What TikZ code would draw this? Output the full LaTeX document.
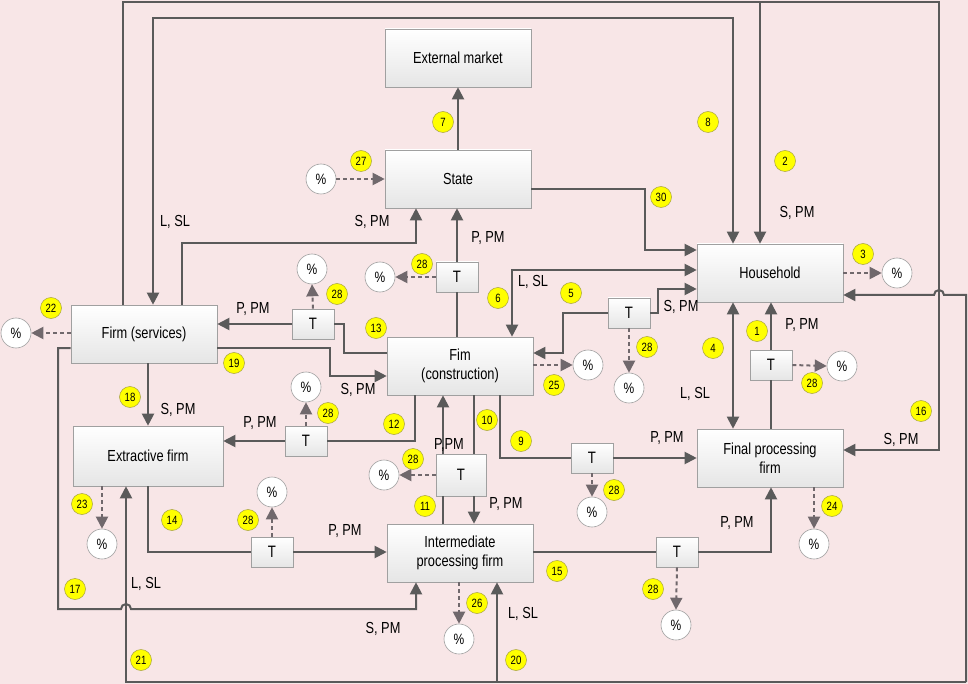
\documentclass[tikz,border=0pt]{standalone}
\usepackage{fontspec}
\setmainfont[FakeStretch=0.8]{Liberation Sans}
\usetikzlibrary{arrows.meta,calc,shadows}

\definecolor{bgpink}{RGB}{248,230,231}
\definecolor{linegray}{RGB}{90,90,90}
\definecolor{dashgray}{RGB}{112,104,108}
\definecolor{boxline}{RGB}{160,160,160}
\definecolor{numyellow}{RGB}{255,255,0}

\tikzset{
  box/.style={draw=boxline,line width=0.6pt,top color=white,bottom color=black!10,
    minimum width=146pt,minimum height=58pt,align=center,
    font=\fontsize{16}{19}\selectfont},
  tbox/.style={draw=boxline,line width=0.6pt,top color=white,bottom color=black!10,
    minimum width=42pt,minimum height=30pt,inner sep=0pt,
    font=\fontsize{16.5}{16.5}\selectfont},
  pct/.style={circle,draw=boxline,line width=0.6pt,fill=white,minimum size=30pt,
    inner sep=0pt,font=\fontsize{15}{15}\selectfont},
  num/.style={circle,draw=yellow!60!black,line width=0.5pt,fill=numyellow,
    minimum size=21pt,inner sep=0pt,font=\fontsize{12}{12}\selectfont},
  lbl/.style={inner sep=0pt,font=\fontsize{16}{19}\selectfont},
  flow/.style={draw=linegray,line width=2pt},
  tax/.style={draw=dashgray,line width=2pt,dash pattern=on 4pt off 3pt},
  >={Triangle[length=12pt,width=12pt]},
}

\begin{document}
\begin{tikzpicture}[y=1pt,x=1pt,yscale=-1]
\useasboundingbox (0,0) rectangle (968,684);
\fill[bgpink] (0,0) rectangle (968,684);

% main boxes
\node[box] (ext) at (458,58) {External market};
\node[box] (state) at (458,179) {State};
\node[box] (house) at (770,273) {Household};
\node[box] (serv) at (144,334) {Firm (services)};
\node[box] (cons) at (460,366) {Fim\\(construction)};
\node[box,minimum width=150pt,minimum height=60pt] (extr) at (148,456) {Extractive firm};
\node[box] (inter) at (460,553) {Intermediate\\processing firm};
\node[box] (final) at (770,458) {Final processing\\firm};

% tax boxes
\node[tbox] (t1) at (457,277) {T};
\node[tbox] (t2) at (313,324) {T};
\node[tbox] (t3) at (629,313) {T};
\node[tbox] (t4) at (306,441) {T};
\node[tbox,minimum width=50pt,minimum height=42pt] (t5) at (461,475) {T};
\node[tbox] (t6) at (272,552) {T};
\node[tbox] (t7) at (592,458) {T};
\node[tbox] (t8) at (677,552) {T};
\node[tbox] (t9) at (771,365) {T};

% percent circles
\node[pct] (p27) at (321,179) {\%};
\node[pct] (p1) at (380,277) {\%};
\node[pct] (p2) at (312,269) {\%};
\node[pct] (pserv) at (16,333) {\%};
\node[pct] (phouse) at (897,273) {\%};
\node[pct] (pcons) at (588,365) {\%};
\node[pct] (p3) at (629,388) {\%};
\node[pct] (p9) at (842,366) {\%};
\node[pct] (p4) at (306,387) {\%};
\node[pct] (p5) at (384,475) {\%};
\node[pct] (pextr) at (102,544) {\%};
\node[pct] (p6) at (272,492) {\%};
\node[pct] (pinter) at (459,639) {\%};
\node[pct] (p7) at (592,512) {\%};
\node[pct] (pfinal) at (814,544) {\%};
\node[pct] (p8) at (676,625) {\%};

% corner points of the long lines
\coordinate (tl) at (123,2);
\coordinate (tr) at (939,2);
\coordinate (b2) at (760,2);
\coordinate (tl2) at (153,18);
\coordinate (tr2) at (733,18);
\coordinate (l17) at (58,609);
\coordinate (hop1) at (126,609);
\coordinate (hop2) at (939,295);
\coordinate (br) at (966,682);
\coordinate (bl) at (126,682);
\coordinate (b20) at (497,682);

% outer lines
\draw[flow,->] (serv.north -| tl) -- (tl) -- (tr) |- ($(final.east)+(0,-8)$);
\draw[flow,->] (b2) -- (b2 |- house.north);
\draw[flow,<->] (house.north -| tr2) -- (tr2) -- (tl2) -- (tl2 |- serv.north);
\draw[flow,->] (br) |- ($(hop2)+(5,0)$) arc[start angle=0,end angle=-180,radius=5]
  -- ($(house.east)+(0,22)$);
\draw[flow,->] (br) -- (bl) -- (bl |- extr.south);
\draw[flow,->] (b20) -- (b20 |- inter.south);
\draw[flow,->] ($(serv.west)+(0,14)$) -| (l17) -- ($(hop1)+(-5,0)$)
  arc[start angle=180,end angle=360,radius=5] -| ($(inter.south)+(-44,0)$);

% state
\draw[flow,->] (state.north) -- (ext.south);
\draw[tax,->] (p27) -- (state);
\draw[flow,->] ($(state.east)+(0,10)$) -- ++(114,0) |- ($(house.west)+(0,-23)$);
\draw[flow,->] ($(serv.north)+(38,0)$) -- ++(0,-62) -| ($(state.south)+(-42,0)$);
\draw[flow] (cons.north -| t1) -- (t1.south);
\draw[flow,->] (t1.north) -- (t1.north |- state.south);
\draw[tax,->] (t1.west) -- (p1.east);

% construction firm
\draw[flow] ($(cons.west)+(0,-13)$) -| ($(t2.east)+(10,0)$) -- (t2.east);
\draw[flow,->] (t2.west) -- (serv.east |- t2);
\draw[tax,->] (t2.north) -- (p2.south);
\draw[flow,->] ($(serv.east)+(0,14)$) -- ++(113,0) |- ($(cons.west)+(0,10)$);
\draw[flow,<->] ($(house.west)+(0,-3)$) -| ($(cons.north)+(52,0)$);
\draw[flow,<-] ($(cons.east)+(0,-13)$) -- ++(30,0) |- (t3.west);
\draw[flow,->] (t3.east) -- ++(8,0) |- ($(house.west)+(0,16)$);
\draw[tax,->] (t3.south) -- (p3.north);
\draw[tax,->] (cons.east |- pcons) -- (pcons.west);
\draw[flow] ($(cons.south)+(40,0)$) |- (t7.west);
\draw[flow,->] (t7.east) -- (final.west |- t7);
\draw[tax,->] (t7.south) -- (p7.north);
\draw[flow] ($(cons.south)+(14,0)$) -- ($(t5.north)+(13,0)$);
\draw[flow,->] ($(t5.south)+(13,0)$) -- ($(inter.north)+(14,0)$);
\draw[flow] ($(inter.north)+(-17,0)$) -- ($(t5.south)+(-18,0)$);
\draw[flow,->] ($(t5.north)+(-18,0)$) -- ($(cons.south)+(-17,0)$);
\draw[tax,->] (t5.west) -- (p5.east);
\draw[flow] ($(cons.south)+(-45,0)$) |- (t4.east);
\draw[flow,->] (t4.west) -- (extr.east |- t4);
\draw[tax,->] (t4.north) -- (p4.south);

% household and final firm
\draw[flow,<->] (house.south -| tr2) -- (final.north -| tr2);
\draw[flow] (final.north -| t9) -- (t9.south);
\draw[flow,->] (t9.north) -- (house.south -| t9);
\draw[tax,->] (t9.east) -- (p9.west);

% services, extractive, intermediate
\draw[flow,->] ($(serv.south)+(4,0)$) -- (extr.north);
\draw[flow] (extr.south) |- (t6.west);
\draw[flow,->] (t6.east) -- (inter.west |- t6);
\draw[tax,->] (t6.north) -- (p6.south);
\draw[flow] (inter.east |- t8) -- (t8.west);
\draw[flow,->] (t8.east) -| (final.south -| t9);
\draw[tax,->] (t8.south) -- (p8.north);

% leaks to percent
\draw[tax,->] (extr.south -| pextr) -- (pextr.north);
\draw[tax,->] (final.south -| pfinal) -- (pfinal.north);
\draw[tax,->] (inter.south -| pinter) -- (pinter.north);
\draw[tax,->] (house.east |- phouse) -- (phouse.west);
\draw[tax,->] (serv.west |- pserv) -- (pserv.east);

% flow labels
\node[lbl] (la) at (175,222) {L, SL};
\node[lbl] (lb) at (372,222) {S, PM};
\node[lbl] (lc) at (488,238) {P, PM};
\node[lbl] (ld) at (797,213) {S, PM};
\node[lbl] (le) at (253,309) {P, PM};
\node[lbl] (lf) at (533,282) {L, SL};
\node[lbl] (lg) at (681,307) {S, PM};
\node[lbl] (lh) at (802,325) {P, PM};
\node[lbl] (li) at (358,390) {S, PM};
\node[lbl] (lj) at (695,394) {L, SL};
\node[lbl] (lk) at (178,410) {S, PM};
\node[lbl] (ll) at (260,423) {P, PM};
\node[lbl] (lm) at (449,445) {P,PM};
\node[lbl] (ln) at (901,440) {S, PM};
\node[lbl] (lo) at (667,438) {P, PM};
\node[lbl] (lp) at (506,504) {P, PM};
\node[lbl] (lq) at (345,531) {P, PM};
\node[lbl] (lr) at (737,523) {P, PM};
\node[lbl] (ls) at (146,584) {L, SL};
\node[lbl] (lt) at (523,614) {L, SL};
\node[lbl] (lu) at (383,629) {S, PM};

% numbers
\node[num] (n7) at (443,122) {7};
\node[num] (n27) at (361,161) {27};
\node[num] (n28a) at (422,264) {28};
\node[num] (n28b) at (337,294) {28};
\node[num] (n22) at (51,308) {22};
\node[num] (n13) at (376,328) {13};
\node[num] (n8) at (708,122) {8};
\node[num] (n2) at (785,161) {2};
\node[num] (n30) at (661,197) {30};
\node[num] (n3) at (863,254) {3};
\node[num] (n6) at (498,298) {6};
\node[num] (n5) at (571,293) {5};
\node[num] (n1) at (757,331) {1};
\node[num] (n4) at (713,348) {4};
\node[num] (n28c) at (647,347) {28};
\node[num] (n28d) at (812,383) {28};
\node[num] (n16) at (921,411) {16};
\node[num] (n25) at (554,385) {25};
\node[num] (n19) at (234,363) {19};
\node[num] (n18) at (130,397) {18};
\node[num] (n28e) at (328,413) {28};
\node[num] (n12) at (394,424) {12};
\node[num] (n10) at (487,420) {10};
\node[num] (n9) at (521,441) {9};
\node[num] (n28f) at (413,459) {28};
\node[num] (n11) at (425,506) {11};
\node[num] (n28g) at (614,490) {28};
\node[num] (n23) at (82,504) {23};
\node[num] (n14) at (172,520) {14};
\node[num] (n28h) at (248,520) {28};
\node[num] (n24) at (832,506) {24};
\node[num] (n17) at (75,589) {17};
\node[num] (n26) at (477,603) {26};
\node[num] (n15) at (557,571) {15};
\node[num] (n28i) at (653,589) {28};
\node[num] (n21) at (141,660) {21};
\node[num] (n20) at (516,660) {20};
\end{tikzpicture}
\end{document}
